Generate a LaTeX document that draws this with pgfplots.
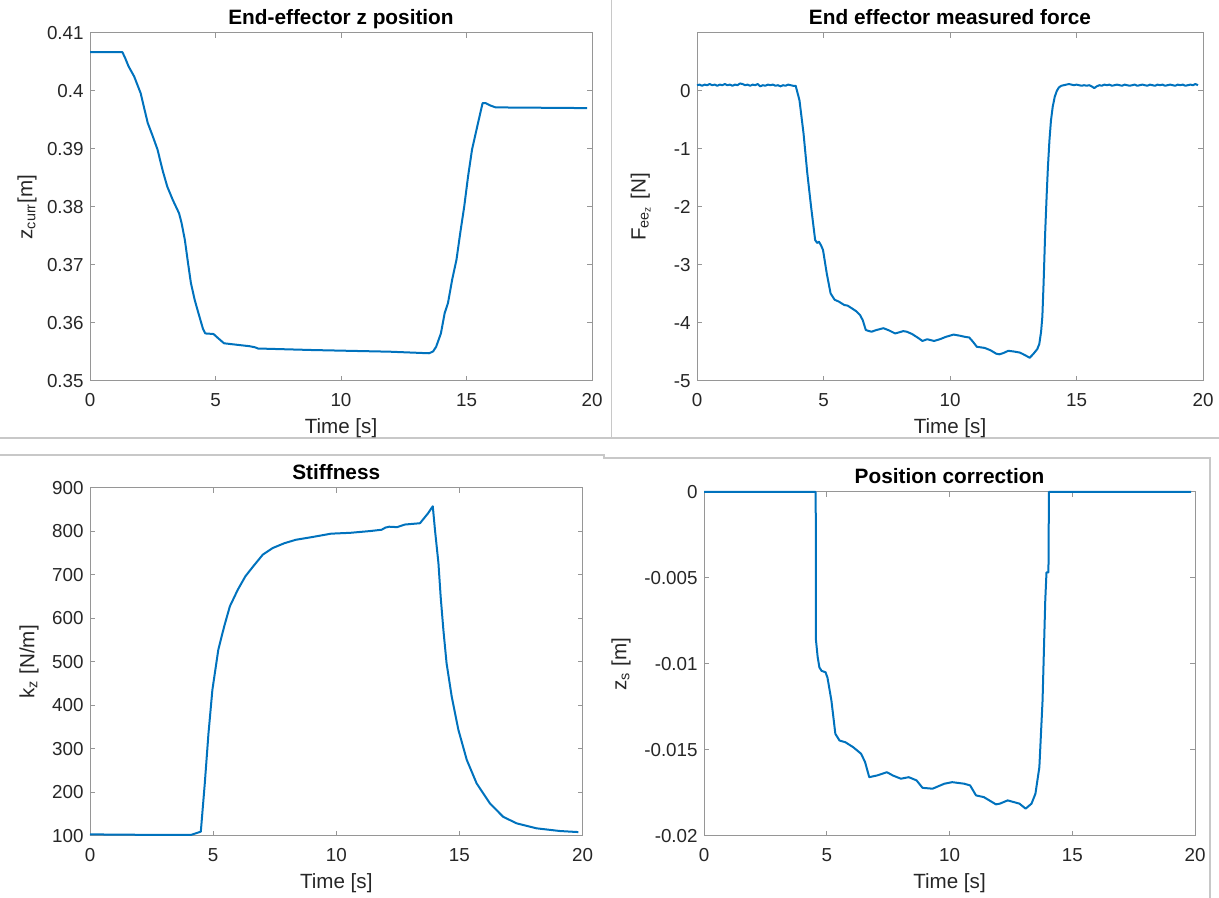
\documentclass[border=0pt]{standalone}
\usepackage{pgfplots}
\pgfplotsset{compat=1.18}
\usepackage{fontspec}
\setmainfont{Liberation Sans}
\definecolor{mblue}{RGB}{0,114,189}
\definecolor{axgray}{RGB}{150,150,150}
\definecolor{txtgray}{RGB}{38,38,38}
\definecolor{sepgray}{RGB}{200,200,200}
\pgfplotsset{
 mstyle/.style={
  scale only axis,
  anchor=south west,
  xmin=0, xmax=20, xtick={0,5,10,15,20},
  axis line style={axgray, line width=0.5pt},
  every tick/.style={axgray, line width=0.5pt},
  tick align=inside, major tick length=2.5pt,
  tick label style={font=\fontsize{9.4}{11}\selectfont, text=txtgray},
  /pgf/number format/assume math mode=true,
  scaled ticks=false,
  xticklabel style={inner sep=0pt, yshift=-6pt},
  yticklabel style={inner sep=0pt, xshift=-3pt},
  title style={font=\bfseries\fontsize{10.4}{12}\selectfont, at={(axis description cs:0.5,1)}, anchor=base, yshift=-2pt, inner sep=0pt},
  xlabel style={font=\fontsize{10.3}{12}\selectfont, text=txtgray, at={(axis description cs:0.5,0)}, anchor=base, yshift=-26.5pt, inner sep=0pt},
  ylabel style={font=\fontsize{10.3}{12}\selectfont, text=txtgray, anchor=south, inner sep=0pt},
  xlabel={Time [s]},
  clip=false,
  every axis plot post/.append style={mblue, line width=1pt, line join=round, mark=none},
 }
}
\begin{document}
\begin{tikzpicture}
% separators
\draw[sepgray, line width=0.6pt] (305.85pt,449pt) -- (305.85pt,230pt);
\draw[sepgray, line width=0.6pt] (0pt,230pt) -- (609.5pt,230pt);
\draw[sepgray, line width=0.6pt] (0pt,221.5pt) -- (302pt,221.5pt) -- (302pt,220pt) -- (605pt,220pt) -- (605pt,0pt);

% Panel 1
\begin{axis}[mstyle, at={(45pt,258.5pt)}, width=251pt, height=174pt,
  ymin=0.35, ymax=0.41, ytick={0.35,0.36,0.37,0.38,0.39,0.4,0.41},
  title={End-effector z position},
  ylabel={z\textsubscript{curr}[m]},
  ylabel style={at={(axis description cs:-0.1056,0.5)}}]
\addplot table {
0 0.4067
1.29 0.4067
1.40 0.4057
1.53 0.4043
1.76 0.4025
2.02 0.3996
2.15 0.3972
2.30 0.3945
2.50 0.3922
2.69 0.3899
2.90 0.3862
3.08 0.3835
3.30 0.3812
3.55 0.3789
3.65 0.3772
3.78 0.3743
3.90 0.3705
4.02 0.3669
4.17 0.3640
4.30 0.3620
4.40 0.3605
4.50 0.3590
4.59 0.3582
4.92 0.3581
5.10 0.3574
5.34 0.3565
6.35 0.3560
6.58 0.3558
6.69 0.3556
8.84 0.35534
11.95 0.35505
13.51 0.35478
13.67 0.3551
13.79 0.3559
13.98 0.3582
14.13 0.3617
14.26 0.3634
14.43 0.3675
14.60 0.3709
14.75 0.3755
14.91 0.3801
15.06 0.3852
15.22 0.3899
15.46 0.3945
15.64 0.3979
15.77 0.3979
15.95 0.3975
16.16 0.39717
19.81 0.39705
};
\end{axis}

% Panel 2
\begin{axis}[mstyle, at={(348.5pt,258.5pt)}, width=253pt, height=174pt,
  ymin=-5, ymax=1, ytick={-5,-4,-3,-2,-1,0},
  title={End effector measured force},
  ylabel={F\textsubscript{ee\textsubscript{z}} [N]},
  ylabel style={at={(axis description cs:-0.0909,0.5)}}]
\addplot table {
0 0.10
0.1 0.11
0.2 0.09
0.3 0.11
0.4 0.10
0.5 0.12
0.6 0.10
0.7 0.11
0.8 0.09
0.9 0.11
1.0 0.10
1.1 0.12
1.2 0.10
1.3 0.11
1.4 0.09
1.5 0.11
1.6 0.10
1.7 0.13
1.8 0.12
1.9 0.10
2.0 0.11
2.1 0.09
2.2 0.11
2.3 0.10
2.4 0.12
2.5 0.08
2.6 0.10
2.7 0.09
2.8 0.11
2.9 0.10
3.0 0.11
3.1 0.09
3.2 0.10
3.3 0.08
3.4 0.10
3.5 0.09
3.6 0.11
3.7 0.10
3.8 0.09
3.9 0.09
4.05 -0.16
4.21 -0.73
4.36 -1.42
4.51 -2.0
4.67 -2.57
4.75 -2.62
4.82 -2.60
4.90 -2.66
4.98 -2.74
5.13 -3.15
5.28 -3.49
5.44 -3.60
5.6 -3.63
5.82 -3.69
5.95 -3.70
6.13 -3.75
6.3 -3.80
6.44 -3.86
6.55 -3.95
6.67 -4.12
6.80 -4.14
6.90 -4.15
7.1 -4.12
7.37 -4.09
7.6 -4.13
7.83 -4.18
8.0 -4.16
8.15 -4.14
8.29 -4.15
8.5 -4.19
8.75 -4.26
8.91 -4.31
9.1 -4.28
9.37 -4.31
9.6 -4.28
9.83 -4.24
10.14 -4.20
10.4 -4.22
10.6 -4.24
10.76 -4.25
10.9 -4.32
11.06 -4.41
11.37 -4.43
11.6 -4.47
11.83 -4.53
11.95 -4.54
12.1 -4.52
12.30 -4.48
12.5 -4.49
12.76 -4.51
12.9 -4.54
13.07 -4.58
13.15 -4.60
13.30 -4.53
13.45 -4.45
13.53 -4.36
13.60 -4.15
13.65 -3.89
13.70 -3.30
13.76 -2.46
13.82 -1.80
13.87 -1.31
13.93 -0.85
13.99 -0.51
14.06 -0.27
14.14 -0.10
14.22 0.0
14.30 0.06
14.4 0.09
14.5 0.10
14.6 0.11
14.7 0.12
14.8 0.11
14.9 0.10
15.0 0.11
15.1 0.10
15.2 0.09
15.3 0.10
15.4 0.09
15.5 0.10
15.6 0.08
15.7 0.05
15.8 0.08
15.9 0.10
16.0 0.09
16.1 0.11
16.2 0.10
16.3 0.11
16.4 0.09
16.5 0.10
16.6 0.11
16.7 0.10
16.8 0.09
16.9 0.11
17.0 0.10
17.1 0.09
17.2 0.10
17.3 0.11
17.4 0.09
17.5 0.10
17.6 0.11
17.7 0.10
17.8 0.09
17.9 0.11
18.0 0.10
18.1 0.09
18.2 0.11
18.3 0.10
18.4 0.11
18.5 0.09
18.6 0.10
18.7 0.11
18.8 0.10
18.9 0.09
19.0 0.11
19.1 0.10
19.2 0.11
19.3 0.09
19.4 0.10
19.5 0.11
19.6 0.10
19.7 0.12
19.8 0.10
};
\end{axis}

% Panel 3
\begin{axis}[mstyle, at={(45pt,31pt)}, width=246.25pt, height=174pt,
  ymin=100, ymax=900, ytick={100,200,300,400,500,600,700,800,900},
  title={Stiffness},
  ylabel={k\textsubscript{z} [N/m]},
  ylabel style={at={(axis description cs:-0.1036,0.5)}}]
\addplot table {
0 104
1 103
4.10 102.5
4.50 110
4.66 220
4.81 335
4.97 436
5.21 528
5.45 582
5.68 628
6.0 666
6.31 697
6.63 720
7.02 747
7.42 762
7.89 773
8.36 781
9.0 787
9.79 795
10.58 797
11.37 801
11.84 804
12.0 809
12.15 811
12.47 810
12.79 816
13.40 819
13.73 842
13.92 858
14.01 803
14.15 727
14.24 650
14.35 574
14.48 497
14.69 420
14.96 344
15.30 275
15.70 221
16.24 175
16.78 144
17.33 129
18.14 117.6
19.09 111.4
19.83 109
};
\end{axis}

% Panel 4
\begin{axis}[mstyle, at={(352pt,31pt)}, width=245.5pt, height=172pt,
  ymin=-0.02, ymax=0, ytick={-0.02,-0.015,-0.01,-0.005,0},
  yticklabel style={/pgf/number format/.cd, fixed, precision=3},
  title={Position correction},
  ylabel={z\textsubscript{s} [m]},
  ylabel style={at={(axis description cs:-0.1487,0.5)}}]
\addplot table {
0 0
4.55 0
4.56 -0.0086
4.63 -0.0096
4.70 -0.0102
4.79 -0.0104
4.95 -0.01048
5.03 -0.0108
5.19 -0.01213
5.35 -0.01406
5.52 -0.01445
5.76 -0.01455
6.08 -0.01484
6.40 -0.01522
6.56 -0.0157
6.73 -0.01658
7.05 -0.01648
7.45 -0.01629
7.69 -0.01648
8.02 -0.01667
8.34 -0.01658
8.66 -0.01677
8.9 -0.0172
9.31 -0.01725
9.79 -0.01696
10.11 -0.01687
10.6 -0.01696
10.84 -0.01706
11.08 -0.01764
11.4 -0.01774
11.89 -0.01816
12.05 -0.01812
12.37 -0.01793
12.85 -0.01812
13.1 -0.01841
13.34 -0.01812
13.5 -0.01754
13.66 -0.016
13.79 -0.01213
13.9 -0.00632
13.95 -0.00468
14.03 -0.00468
14.05 0
19.84 0
};
\end{axis}
\pgfresetboundingbox
\path (0pt,0pt) rectangle (609.5pt,449pt);
\end{tikzpicture}
\end{document}
